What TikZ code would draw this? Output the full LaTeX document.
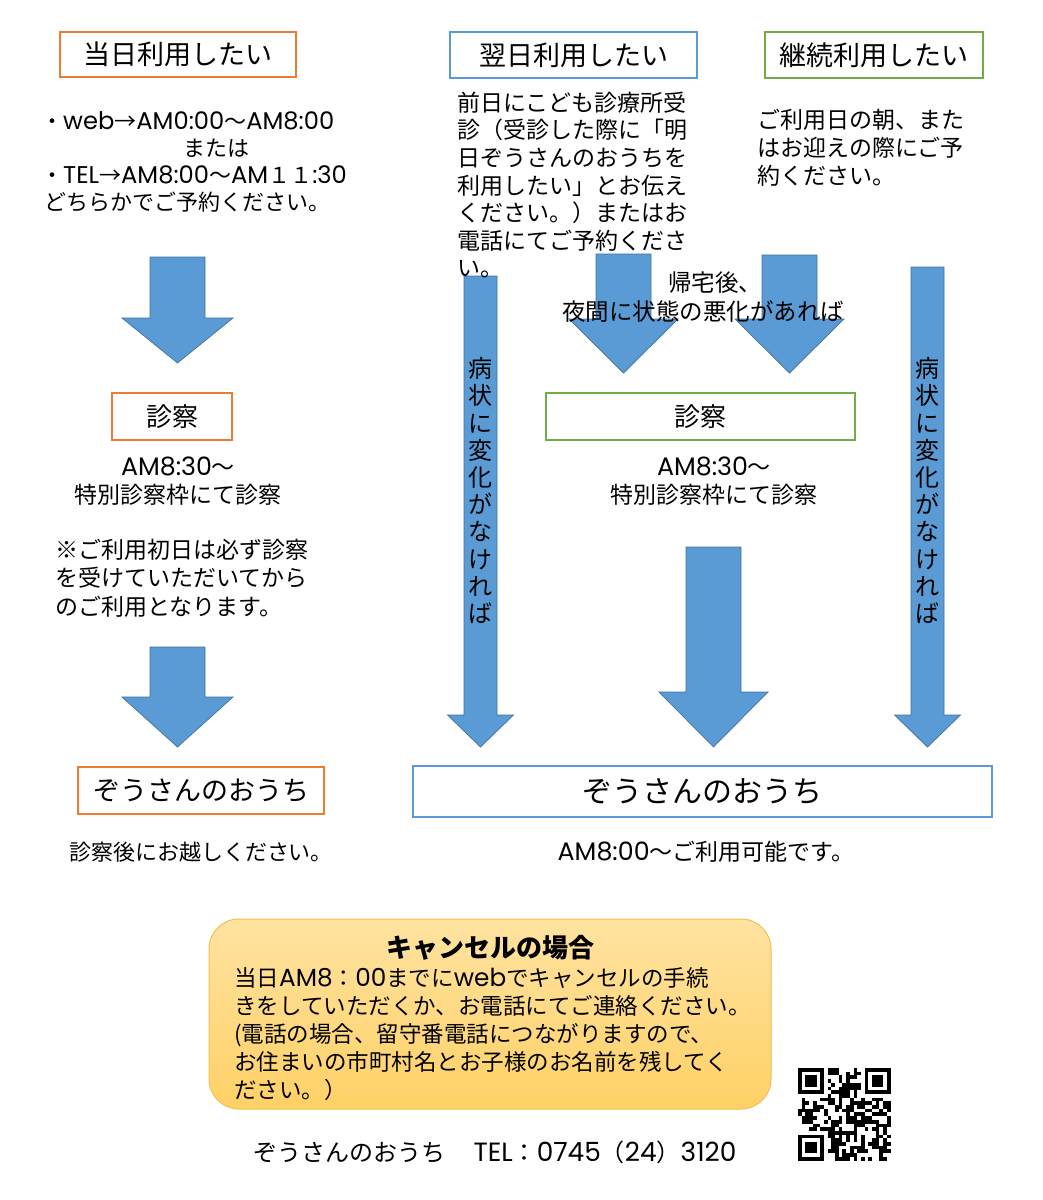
\documentclass[tikz,border=0pt]{standalone}
\usepackage{fontspec}
\setmainfont{Noto Sans CJK JP}
\newfontfamily\latin{Poppins}[Scale=1.1]

\definecolor{boxorange}{HTML}{ED7D31}
\definecolor{boxblue}{HTML}{5B9BD5}
\definecolor{boxgreen}{HTML}{70AD47}
\definecolor{arrowfill}{HTML}{5B9BD5}
\definecolor{arrowline}{HTML}{41719C}
\definecolor{canceltop}{HTML}{FFE3A1}
\definecolor{cancelbottom}{HTML}{FFD166}
\definecolor{canceledge}{HTML}{F2C04C}

\newcommand\setfs[2]{\fontsize{#1}{#2}\selectfont}

\tikzset{
  flowbox/.style={draw=#1, line width=1.6pt, fill=white, inner sep=0pt},
  bigarrow/.style={fill=arrowfill, draw=arrowline, line width=0.7pt, line join=miter},
  txt/.style={inner sep=0pt, align=left},
  cancelbox/.style={draw=canceledge, line width=1pt, rounded corners=30pt,
    top color=canceltop, bottom color=cancelbottom, inner sep=0pt},
}

\begin{document}
\begin{tikzpicture}[x=1pt,y=-1pt]
   \fill[white] (0,0) rectangle (1042,1200);
   \useasboundingbox (0,0) rectangle (1042,1200);
   % boxes
   \node[flowbox=boxorange, minimum width=236pt, minimum height=45pt, font=\setfs{27}{32}] (today) at (178,54.5) {当日利用したい};
   \node[flowbox=boxblue, minimum width=247pt, minimum height=46pt, font=\setfs{27}{32}] (nextday) at (573.5,55) {翌日利用したい};
   \node[flowbox=boxgreen, minimum width=218pt, minimum height=46pt, font=\setfs{27}{32}] (keepon) at (874,55) {継続利用したい};
   \node[flowbox=boxorange, minimum width=120pt, minimum height=47pt, font=\setfs{26}{30}] (examleft) at (172,416.5) {診察};
   \node[flowbox=boxgreen, minimum width=309pt, minimum height=47pt, font=\setfs{26}{30}] (examright) at (700.5,416.5) {診察};
   \node[flowbox=boxorange, minimum width=246pt, minimum height=47pt, font=\setfs{27}{32}] (houseleft) at (201,790.5) {ぞうさんのおうち};
   \node[flowbox=boxblue, minimum width=579pt, minimum height=51pt, font=\setfs{30}{34}] (houseright) at (702.5,791.5) {ぞうさんのおうち};
   % block arrows
   \draw[bigarrow] (150,257) -- (205,257) -- (205,318) -- (233,318) -- (177.5,363) -- (122,318) -- (150,318) -- cycle;
   \draw[bigarrow] (150,647) -- (205,647) -- (205,697) -- (233,697) -- (177.5,747) -- (122,697) -- (150,697) -- cycle;
   \draw[bigarrow] (464,276) -- (497,276) -- (497,715) -- (513.5,715) -- (480.5,747) -- (447.5,715) -- (464,715) -- cycle;
   \draw[bigarrow] (596,254) -- (651,254) -- (651,319) -- (678,319) -- (623.5,373) -- (569,319) -- (596,319) -- cycle;
   \draw[bigarrow] (762,255) -- (817,255) -- (817,319) -- (844,319) -- (789.5,373) -- (735,319) -- (762,319) -- cycle;
   \draw[bigarrow] (686,547) -- (741,547) -- (741,692) -- (768,692) -- (713.5,747) -- (659,692) -- (686,692) -- cycle;
   \draw[bigarrow] (911,267) -- (944,267) -- (944,715) -- (960.5,715) -- (927.5,747) -- (894.5,715) -- (911,715) -- cycle;
   % texts
   \node[txt, anchor=west, font=\setfs{22}{27}] (todaynote) at (44,162)
      {\hspace*{-3pt}・{\latin web}→{\latin AM0:00}～{\latin AM8:00}\\\hspace*{139pt}または\\\hspace*{-3pt}・{\latin TEL}→{\latin AM8:00}～{\latin AM}１１{\latin :30}\\どちらかでご予約ください。};
   \node[txt, anchor=west, font=\setfs{23}{27.6}] (nextnote) at (457,185)
      {前日にこども診療所受\\診（受診した際に「明\\日ぞうさんのおうちを\\利用したい」とお伝え\\ください。）またはお\\電話にてご予約くださ\\い。};
   \node[txt, anchor=west, font=\setfs{23}{28}] (keepnote) at (757,148)
      {ご利用日の朝、また\\はお迎えの際にご予\\約ください。};
   \node[align=center, inner sep=0pt, font=\setfs{23.5}{29}] (worse) at (703,297.5)
      {\hspace*{24pt}帰宅後、\\夜間に状態の悪化があれば};
   \node[align=center, inner sep=0pt, font=\setfs{23}{28}] (timeleft) at (178,481) {{\latin AM8:30}～\\特別診察枠にて診察};
   \node[align=center, inner sep=0pt, font=\setfs{23}{28}] (timeright) at (714,481) {{\latin AM8:30}～\\特別診察枠にて診察};
   \node[txt, anchor=west, font=\setfs{23}{28.5}] (firstday) at (55,578)
      {※ご利用初日は必ず診察\\を受けていただいてから\\のご利用となります。};
   \node[align=center, inner sep=0pt, font=\setfs{24}{27.2}] (calmleft) at (480.5,490.5)
      {病\\状\\に\\変\\化\\が\\な\\け\\れ\\ば};
   \node[align=center, inner sep=0pt, font=\setfs{24}{27.2}] (calmright) at (927.5,490.5)
      {病\\状\\に\\変\\化\\が\\な\\け\\れ\\ば};
   \node[inner sep=0pt, font=\setfs{22}{26}] (afterexam) at (201,852) {診察後にお越しください。};
   \node[inner sep=0pt, font=\setfs{23}{26}] (fromeight) at (706,852) {{\latin AM8:00}～ご利用可能です。};
   % cancel box
   \node[cancelbox, minimum width=562pt, minimum height=190pt] (cancel) at (490,1014) {};
   \node[inner sep=0pt, font=\setfs{26}{30}\bfseries] (canceltitle) at (490,948) {キャンセルの場合};
   \node[txt, anchor=west, font=\setfs{22.5}{28}] (cancelnote) at (234,1034)
      {当日{\latin AM8}：{\latin 00}までに{\latin web}でキャンセルの手続\\きをしていただくか、お電話にてご連絡ください。\\(電話の場合、留守番電話につながりますので、\\お住まいの市町村名とお子様のお名前を残してく\\ださい。）};
   \node[inner sep=0pt, font=\setfs{24}{26}] (footer) at (495,1152)
      {ぞうさんのおうち\hspace{28pt}{\latin TEL}：{\latin 0745}（{\latin 24}）{\latin 3120}};
   % qr code
   \pgfmathsetseed{42}
   \foreach \i in {0,...,24}{
     \foreach \j in {0,...,24}{
       \pgfmathtruncatemacro\qbit{((\i<8 && \j<8) || (\i>16 && \j<8) || (\i<8 && \j>16)) ? 0 : (rnd<0.55)}
       \ifnum\qbit=1 \fill (798+3.7*\i,1068+3.7*\j) rectangle ++(3.7,3.7); \fi
     }
   }
   \foreach \fx/\fy in {0/0,18/0,0/18}{
     \fill (798+3.7*\fx,1068+3.7*\fy) rectangle ++(25.9,25.9);
     \fill[white] (801.7+3.7*\fx,1071.7+3.7*\fy) rectangle ++(18.5,18.5);
     \fill (805.4+3.7*\fx,1075.4+3.7*\fy) rectangle ++(11.1,11.1);
   }
\end{tikzpicture}
\end{document}
